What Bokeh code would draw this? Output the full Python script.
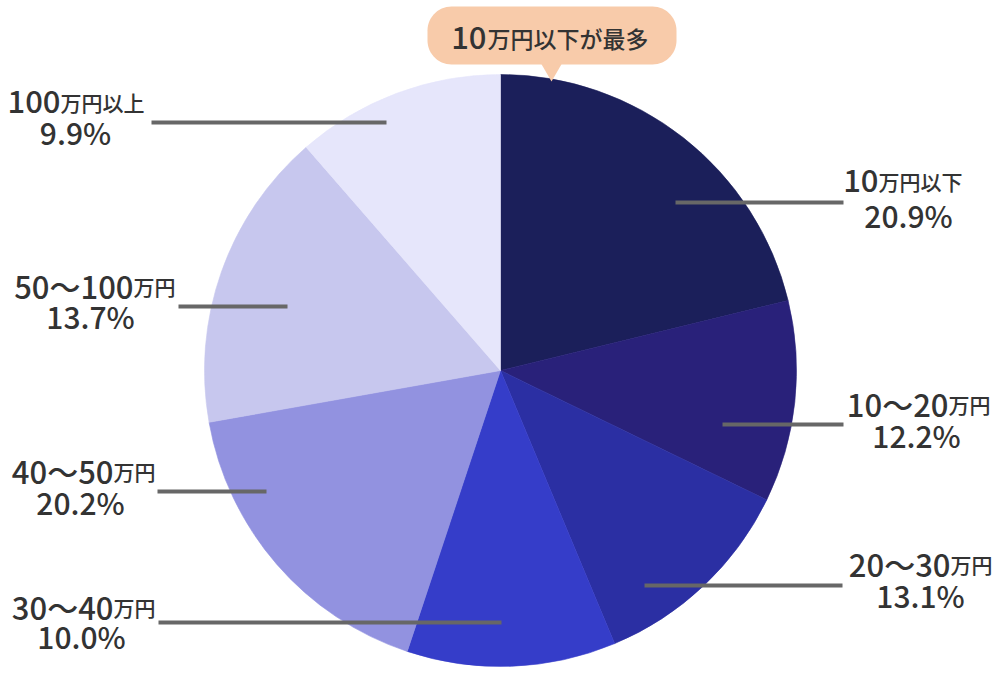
import numpy as np
from bokeh.plotting import figure
from bokeh.models import Range1d, ColumnDataSource
from bokeh.core.properties import value
from bokeh.embed import file_html
from bokeh.resources import INLINE

# ---------------- data ----------------
range_part = ["10", "10〜20", "20〜30", "30〜40", "40〜50", "50〜100", "100"]
unit_part = ["万円以下", "万円", "万円", "万円", "万円", "万円", "万円以上"]
categories = [a + b for a, b in zip(range_part, unit_part)]
pct_labels = [20.9, 12.2, 13.1, 10.0, 20.2, 13.7, 9.9]          # printed values
slice_share = [21.2, 11.0, 11.5, 11.4, 17.1, 16.4, 11.4]        # angular share as drawn
colors = ["#1b1f5a", "#29217a", "#2b2fa3", "#353dc9", "#9292e0", "#c7c7ee", "#e6e6fb"]
callout_num = "10"
callout_rest = "万円以下が最多"

# ---------------- layout (page pixels) ----------------
PAGE_W, PAGE_H = 1000, 673
def Y(v):
    return PAGE_H - np.asarray(v, dtype=float)

CX, CY, R = 500, 370, 296
pct_cx = [908, 916, 920, 81, 80, 90, 75]
split_x = [878, 948, 950, 113, 113, 133, 60]
line1_base = [180, 403, 563, 606, 470, 285, 101]
line2_base = [214, 434, 594, 635, 501, 315, 131]
leader_x0 = [675, 722, 644, 501, 266, 287, 386]
leader_x1 = [843, 843, 842, 158, 157, 178, 151]
leader_y = [202, 424, 585, 622, 491, 306, 122]

FONT = value("'Noto Sans CJK JP Medium', 'Noto Sans CJK JP'")
TXT = "#333333"

p = figure(width=PAGE_W, height=PAGE_H, x_range=Range1d(0, PAGE_W), y_range=Range1d(0, PAGE_H),
           output_backend="svg", toolbar_location=None, min_border=0,
           x_axis_type=None, y_axis_type=None, outline_line_color=None,
           background_fill_color="white", border_fill_color="white")
p.grid.visible = False

# pie
cum = np.concatenate([[0], np.cumsum(slice_share)]) / np.sum(slice_share)
start = np.pi / 2 - 2 * np.pi * cum[:-1]
end = np.pi / 2 - 2 * np.pi * cum[1:]
src = ColumnDataSource(dict(start=start, end=end, color=colors, cat=categories))
p.wedge(x=CX, y=float(Y(CY)), radius=R, start_angle="start", end_angle="end",
        direction="clock", fill_color="color", line_color="color", line_width=0.6, source=src)

# leader lines
p.segment(x0=leader_x0, y0=Y(leader_y), x1=leader_x1, y1=Y(leader_y),
          line_color="#676767", line_width=4)

# labels
p.text(x=split_x, y=Y(line1_base), text=range_part, text_align="right",
       text_baseline="alphabetic", text_font=FONT, text_font_size="31px", text_color=TXT)
p.text(x=split_x, y=Y(line1_base), text=unit_part, text_align="left",
       text_baseline="alphabetic", text_font=FONT, text_font_size="21px", text_color=TXT)
p.text(x=pct_cx, y=Y(line2_base), text=[f"{v:.1f}%" for v in pct_labels], text_align="center",
       text_baseline="alphabetic", text_font=FONT, text_font_size="30px", text_color=TXT)

# callout bubble
bl, br, bt, bb, rr = 427, 676, 6, 64, 24
pts = []
for (cx, cy, a0, a1) in [(br - rr, bt + rr, -90, 0), (br - rr, bb - rr, 0, 90),
                          (bl + rr, bb - rr, 90, 180), (bl + rr, bt + rr, 180, 270)]:
    a = np.radians(np.linspace(a0, a1, 16))
    pts += [(cx + rr * np.cos(t), cy + rr * np.sin(t)) for t in a]
bx = [q[0] for q in pts]
by = [q[1] for q in pts]
p.patch(x=bx, y=Y(by), fill_color="#f8cbaa", line_color=None)
p.patch(x=[540, 562, 551], y=Y([62, 62, 81]), fill_color="#f8cbaa", line_color=None)
p.text(x=[486], y=Y([37]), text=[callout_num], text_align="right", text_baseline="alphabetic",
       text_font=FONT, text_font_size="31px", text_color=TXT, text_font_style="bold")
p.text(x=[487], y=Y([37]), text=[callout_rest], text_align="left", text_baseline="alphabetic",
       text_font=FONT, text_font_size="23px", text_color=TXT, text_font_style="bold")

open("out.html", "w").write(file_html(p, INLINE))
